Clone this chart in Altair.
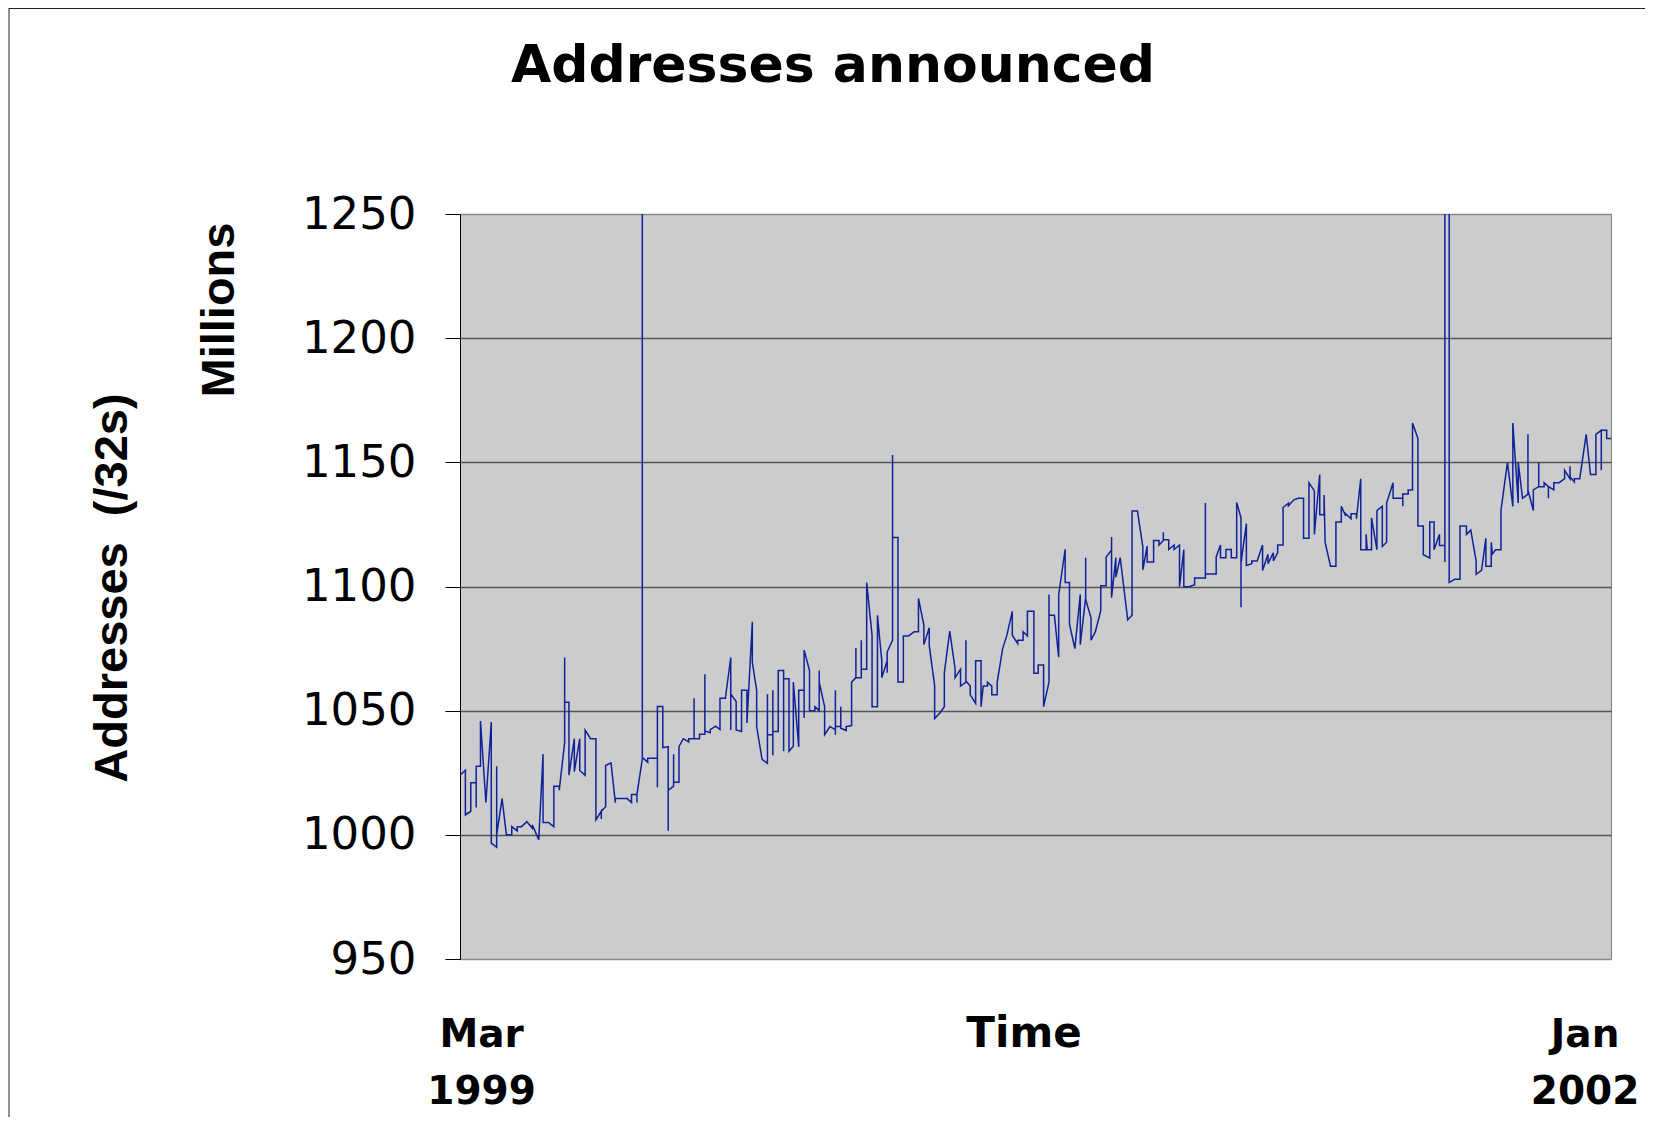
import altair as alt
import pandas as pd

# ---- data: (day since 1 Mar 1999, addresses in millions of /32s)
seg_1999a = [
    (0, 1024), (5, 1026), (5, 1008), (10, 1009.5), (10, 1021), (15, 1021), (15, 1011), (15, 1027.6),
    (19, 1027.6), (19, 1045.8), (24, 1013), (29, 1045.4), (29, 996.7), (34, 995), (34, 1027.6), (34, 1000),
    (39, 1014.6), (43, 1000), (48, 1000), (48, 1003.3), (53, 1001.6), (53, 1003.3), (57, 1003.3), (62, 1005.3),
    (67, 1002.7), (67, 1004), (73, 998), (77, 1032.5), (77, 1005), (82, 1005), (87, 1003.3), (87, 1019.6),
    (92, 1019.6), (92, 1018), (97, 1037), (97, 1071.4), (97, 1053.4), (101, 1053.4), (101, 1024), (106, 1038.7),
    (106, 1025.5), (111, 1038.7), (111, 1025.9), (116, 1024), (116, 1042.2), (121, 1038.7), (126, 1038.7), (126, 1006),
    (131, 1009.5), (131, 1006.4), (131, 1009.5), (135, 1011.3), (135, 1027.9), (140, 1029), (144, 1013), (144, 1014.6),
    (155, 1014.6), (159, 1013), (159, 1016.2), (164, 1016.2), (164, 1013), (164, 1016.2), (169, 1030.5), (169, 1300),
    (169, 1031.2), (174, 1029.2), (174, 1030.8), (183, 1030.8), (183, 1019.2), (183, 1051.7), (188, 1051.7), (188, 1035.1),
    (193, 1035.5), (193, 1001.6), (193, 1017.9), (198, 1019.6), (198, 1032.5), (198, 1021.2), (203, 1021.2), (203, 1035.5),
    (207, 1038.7), (212, 1037.4), (212, 1038.7), (217, 1038.7), (217, 1055), (217, 1038.7), (222, 1038.7), (222, 1040.5),
    (227, 1040.5), (227, 1064.7), (227, 1041.8), (232, 1041.1), (232, 1042.4), (237, 1043.8), (241, 1042.4), (241, 1055),
    (246, 1055), (251, 1071.4), (251, 1042.2), (251, 1056.8), (256, 1053.7), (256, 1042.2),
]
seg_1999b = [
    (261, 1041.6), (261, 1058.2), (266, 1058.2), (266, 1045), (271, 1085.8), (271, 1069.5), (275, 1058.2), (275, 1043.6),
    (280, 1030.4), (285, 1028.8), (285, 1056.6), (285, 1040.3), (290, 1040.3), (290, 1058.2), (290, 1032), (290, 1041.6),
    (295, 1041.6), (295, 1066.2), (300, 1066.2), (300, 1033.7), (300, 1062.9), (305, 1062.9), (305, 1033.7), (309, 1035.7),
    (309, 1061.5), (314, 1035.4), (314, 1058.2), (319, 1058.2), (319, 1047), (319, 1074.4), (324, 1066.2), (324, 1050),
    (329, 1050), (329, 1051.6), (333, 1050), (333, 1066.2), (333, 1061.5), (338, 1051.6), (338, 1040.3), (343, 1043.6),
    (348, 1042.3), (348, 1058.2), (348, 1040.3), (348, 1043.6), (353, 1043.6), (353, 1051.6), (353, 1042.9), (358, 1042),
    (358, 1043.6), (363, 1044),
]
seg_2000a = [
    (363, 1061.5), (367, 1063.3), (367, 1075.2), (367, 1063.3), (372, 1063.3), (372, 1078.4), (372, 1066.7), (377, 1066.7),
    (377, 1101.6), (382, 1080.4), (382, 1051.6), (387, 1051.6), (387, 1088.4), (391, 1070.1), (391, 1063.3), (396, 1070.1),
    (396, 1065.3), (396, 1073.6), (401, 1078.4), (401, 1153), (401, 1119.7), (406, 1119.7), (406, 1061.5), (411, 1061.5),
    (411, 1080.1), (416, 1080.1), (421, 1081.8), (425, 1081.8), (425, 1095.2), (430, 1084.5), (430, 1076.6), (435, 1083.4),
    (435, 1076.3), (440, 1060.1), (440, 1046.8), (445, 1049.2), (449, 1051.6), (449, 1065.3), (454, 1082), (459, 1066.7),
    (459, 1063.3), (464, 1066.7), (464, 1059.9), (469, 1061.5), (469, 1078.4), (469, 1061.9), (473, 1059.9), (473, 1056.4),
    (478, 1052.9), (478, 1070.1), (483, 1070.1), (483, 1051.6), (485, 1059.9), (489, 1059.9), (489, 1061.5), (493, 1059.9),
    (493, 1056.4), (498, 1056.4), (498, 1061.5), (503, 1074.9), (507, 1080.4), (512, 1090), (512, 1080.4), (517, 1077),
    (517, 1078.4), (522, 1078.4), (522, 1081.8), (526, 1080.1), (526, 1090), (532, 1090), (532, 1065.1),
]
seg_2000b = [
    (536, 1065.1), (536, 1068.4), (541, 1068.4), (541, 1051.6), (546, 1061.5), (546, 1096.8), (546, 1088.4), (551, 1088.4),
    (555, 1071.5), (555, 1096.8), (561, 1115), (561, 1101.6), (565, 1101.6), (565, 1084.8), (570, 1075), (575, 1096.8),
    (575, 1076.6), (580, 1095.5), (580, 1111.6), (580, 1094.8), (585, 1087.3), (585, 1078.4), (589, 1081.8), (594, 1090.3),
    (594, 1100.3), (599, 1100.3), (599, 1111.9), (604, 1114.7), (604, 1119.9), (604, 1095.5), (608, 1111.6), (608, 1103.7),
    (612, 1111.6), (619, 1086.6), (623, 1088.4), (623, 1130.4), (628, 1130.4), (633, 1116), (633, 1106.7), (637, 1116.3),
    (637, 1109.9), (643, 1109.9), (643, 1118.5), (648, 1118.5), (648, 1116.7), (652, 1118.5), (652, 1121.8), (652, 1118.8),
    (657, 1118.8), (657, 1114.9), (662, 1116.7), (662, 1114.9), (667, 1116.7), (667, 1099.9), (671, 1114.9), (671, 1099.9),
    (676, 1099.9), (681, 1100.7), (681, 1103.4), (686, 1103.4), (691, 1103.4), (691, 1133.6), (691, 1105), (701, 1105),
    (701, 1111.9), (705, 1116.7), (705, 1111.6), (710, 1111.6), (710, 1114.9), (715, 1114.9), (715, 1111.6), (720, 1111.6),
    (720, 1133.8), (724, 1127.7), (724, 1091.6), (724, 1109.5), (729, 1125.3), (729, 1108.5), (734, 1109.2), (734, 1110.3),
    (739, 1110.3), (744, 1116.7), (744, 1106.4), (749, 1113), (749, 1109.2), (754, 1113.6), (754, 1110.3), (758, 1113.6),
    (758, 1116.7), (763, 1116.7), (763, 1131.8), (768, 1133.6), (768, 1132.5), (773, 1134.9), (777, 1135.5), (780, 1135.5),
]
seg_2001 = [
    (782, 1135.5), (782, 1119.4), (787, 1119.4), (787, 1141.8), (792, 1138.5), (792, 1121), (797, 1145.1), (797, 1128.9),
    (801, 1128.9), (801, 1136.8), (802, 1117.8), (807, 1108.2), (812, 1108.2), (812, 1126), (817, 1126), (817, 1132.3),
    (821, 1128.4), (821, 1129.3), (826, 1127.3), (826, 1129.3), (831, 1129.3), (831, 1127.3), (835, 1143.4), (835, 1114.8),
    (840, 1114.8), (840, 1121), (841, 1114.8), (845, 1114.8), (845, 1127.6), (850, 1114.8), (850, 1130.6), (855, 1132.3),
    (855, 1116.1), (859, 1117.8), (859, 1133.6), (865, 1141.8), (865, 1135.5), (869, 1135.5), (874, 1135.5), (874, 1132.3),
    (874, 1137.2), (879, 1137.2), (879, 1138.9), (883, 1138.9), (883, 1165.8), (888, 1159.6), (888, 1124.4), (893, 1124.4),
    (893, 1112.8), (899, 1111.5), (899, 1126), (903, 1126), (903, 1114.8), (908, 1121), (908, 1116.5), (913, 1116.5),
    (913, 1109.9), (913, 1300), (917, 1300), (917, 1101.6), (922, 1102.9), (927, 1102.9), (927, 1124.4), (933, 1124.4),
    (933, 1121), (937, 1122.7), (942, 1110.2), (942, 1104.9), (947, 1106.5), (951, 1119.4), (951, 1108.2), (956, 1108.2),
    (956, 1117.8), (957, 1113.1), (960, 1114.8), (965, 1114.8), (965, 1130.6), (971, 1150), (976, 1132.3), (976, 1165.8),
    (981, 1133.6), (981, 1150), (985, 1135.5), (990, 1137.2), (990, 1161.3), (990, 1138.9), (995, 1130.6), (995, 1138.9),
    (1000, 1140.2), (1000, 1150), (1000, 1140.2), (1005, 1140.2), (1005, 1141.8), (1009, 1140.2), (1009, 1135.5), (1009, 1140.2),
    (1014, 1138.9), (1014, 1141.8), (1019, 1141.8), (1024, 1143.4), (1024, 1146.8), (1029, 1143.4), (1029, 1148.4), (1029, 1144.2),
    (1033, 1142.1), (1033, 1143.4), (1038, 1143.4), (1044, 1161.3), (1048, 1145.1), (1053, 1145.1), (1053, 1161.3), (1058, 1162.9),
    (1058, 1146.8), (1058, 1162.9), (1063, 1162.9), (1063, 1159.6), (1067, 1159.6),
]

y_ticks = [950, 1000, 1050, 1100, 1150, 1200, 1250]
x_label_days = [20, 1043]
x_label_month = ["Mar", "Jan"]
x_label_year = ["1999", "2002"]
chart_title = "Addresses announced"
y_title_main = "Addresses\u00a0 (/32s)"
y_title_unit = "Millions"
x_title = "Time"

points = seg_1999a + seg_1999b + seg_2000a + seg_2000b + seg_2001
df = pd.DataFrame(points, columns=["day", "addresses"])
df["order"] = range(len(df))

W, H = 1151, 745
x_scale = alt.Scale(domain=[0, 1067], nice=False, zero=False)
y_scale = alt.Scale(domain=[950, 1250], nice=False, zero=False)

line = alt.Chart(df).mark_line(color="#0f2299", strokeWidth=1.5, clip=True).encode(
    x=alt.X("day:Q", scale=x_scale, axis=None),
    y=alt.Y(
        "addresses:Q",
        scale=y_scale,
        axis=alt.Axis(
            values=y_ticks,
            format="d",
            title=None,
            grid=True,
            gridColor={"condition": {"test": "datum.value == 950 || datum.value == 1250", "value": "#8a8a8a"},
                       "value": "#555555"},
            gridWidth=1.3,
            domainColor="#000000",
            domainWidth=1,
            tickColor="#000000",
            tickSize=15,
            tickWidth=1,
            labelFont="DejaVu Sans",
            labelFontSize=45,
            labelColor="#000000",
            labelPadding=29,
            labelFlush=False,
            labelOverlap=False,
        ),
    ),
    order="order:Q",
)

lab_df = pd.DataFrame({"day": x_label_days, "month": x_label_month, "year": x_label_year})
month_text = alt.Chart(lab_df).mark_text(
    font="DejaVu Sans", fontWeight="bold", fontSize=39, align="center", baseline="alphabetic", color="#000000"
).encode(x=alt.X("day:Q", scale=x_scale), y=alt.value(833), text="month:N")
year_text = alt.Chart(lab_df).mark_text(
    font="DejaVu Sans", fontWeight="bold", fontSize=39, align="center", baseline="alphabetic", color="#000000"
).encode(x=alt.X("day:Q", scale=x_scale), y=alt.value(890), text="year:N")

one = pd.DataFrame({"t": [0]})
title_text = alt.Chart(pd.DataFrame({"t": [chart_title]})).mark_text(
    font="DejaVu Sans", fontWeight="bold", fontSize=52, align="center", baseline="alphabetic", color="#000000"
).encode(x=alt.value(373), y=alt.value(-132), text="t:N")
time_text = alt.Chart(pd.DataFrame({"t": [x_title]})).mark_text(
    font="DejaVu Sans", fontWeight="bold", fontSize=42, align="center", baseline="alphabetic", color="#000000"
).encode(x=alt.value(564), y=alt.value(833), text="t:N")
unit_text = alt.Chart(pd.DataFrame({"t": [y_title_unit]})).mark_text(
    font="Liberation Sans", fontWeight="bold", fontSize=47, align="center", baseline="middle", angle=270,
    color="#000000"
).encode(x=alt.value(-240), y=alt.value(96), text="t:N")
main_text = alt.Chart(pd.DataFrame({"t": [y_title_main]})).mark_text(
    font="Liberation Sans", fontWeight="bold", fontSize=47, align="center", baseline="middle", angle=270,
    color="#000000"
).encode(x=alt.value(-347), y=alt.value(374), text="t:N")

border_left = alt.Chart(one).mark_rule(color="#222222", strokeWidth=1).encode(
    x=alt.value(-451), y=alt.value(-206), y2=alt.value(910)
)
border_top = alt.Chart(one).mark_rule(color="#222222", strokeWidth=1).encode(
    x=alt.value(-451), x2=alt.value(1200), y=alt.value(-205.5)
)

chart = (
    alt.layer(line, month_text, year_text, title_text, time_text, unit_text, main_text, border_left, border_top)
    .properties(
        width=W,
        height=H,
        autosize=alt.AutoSizeParams(type="none"),
        padding={"left": 452, "top": 206, "right": 34, "bottom": 158},
        background="#ffffff",
    )
    .configure_view(fill="#cccccc", stroke="#808080", strokeWidth=1)
)

chart.save("out.html", embed_options={"renderer": "svg", "actions": False})
